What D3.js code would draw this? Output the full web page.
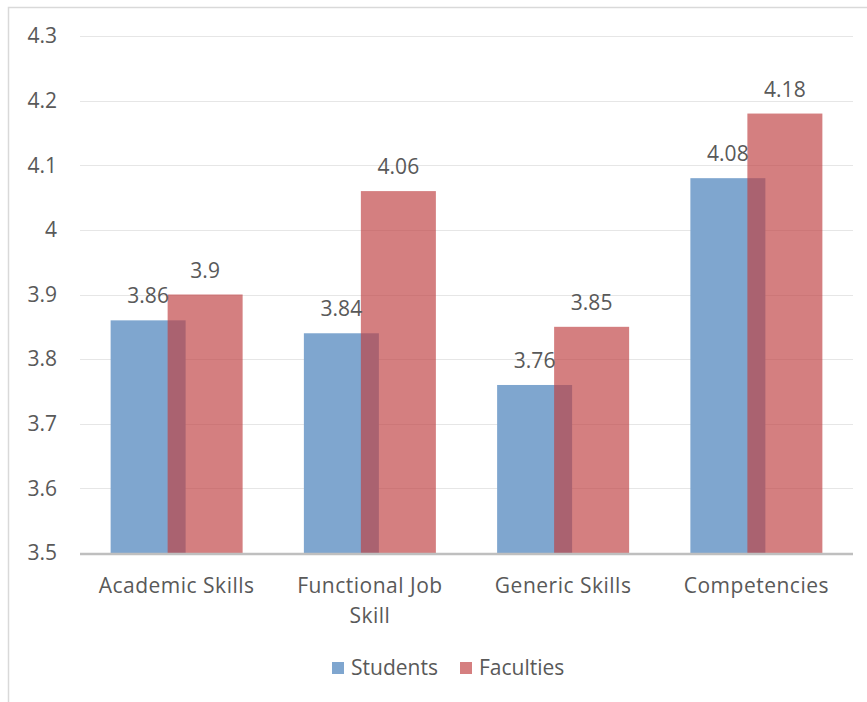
<!DOCTYPE html>
<html>
<head>
<meta charset="utf-8">
<script src="https://cdn.jsdelivr.net/npm/d3@7"></script>
<style>
  html, body { margin: 0; padding: 0; background: #fff; }
  svg { display: block; }
  text { font-family: "Open Sans", "Noto Sans", sans-serif; fill: #595959; }
</style>
</head>
<body>
<svg id="chart" width="867" height="702"></svg>
<script>
// Skill ratings by respondent group
const categories = [["Academic Skills"], ["Functional Job", "Skill"], ["Generic Skills"], ["Competencies"]];
const studentValues = [3.86, 3.84, 3.76, 4.08];
const facultyValues = [3.9, 4.06, 3.85, 4.18];
const yTicks = [3.5, 3.6, 3.7, 3.8, 3.9, 4, 4.1, 4.2, 4.3];
const seriesNames = ["Students", "Faculties"];

const W = 867, H = 702;
const plot = { left: 80, right: 853, top: 36, bottom: 553 };
const fontSize = 21;
const svg = d3.select("#chart");

// chart frame
svg.append("rect")
  .attr("x", 8.5).attr("y", 7.5)
  .attr("width", W + 10).attr("height", H + 10)
  .attr("fill", "none").attr("stroke", "#d9d9d9").attr("stroke-width", 1.5);

const x = d3.scaleBand()
  .domain(d3.range(categories.length))
  .range([plot.left, plot.right])
  .paddingInner(0).paddingOuter(0);

const y = d3.scaleLinear().domain([3.5, 4.3]).range([plot.bottom, plot.top]);

// gridlines
svg.append("g")
  .selectAll("line")
  .data(yTicks.slice(1))
  .join("line")
  .attr("x1", plot.left).attr("x2", plot.right)
  .attr("y1", d => Math.round(y(d)) + 0.5).attr("y2", d => Math.round(y(d)) + 0.5)
  .attr("stroke", "#e6e6e6").attr("stroke-width", 1.2);

// y tick labels
svg.append("g")
  .selectAll("text")
  .data(yTicks)
  .join("text")
  .attr("x", 57).attr("y", d => y(d))
  .attr("dy", "0.35em")
  .attr("text-anchor", "end")
  .attr("font-size", fontSize)
  .text(d => d3.format("")(d));

const barW = 75, overlap = 18;
const center = i => x(i) + x.bandwidth() / 2;
const blueX = i => center(i) - barW + overlap / 2;
const redX = i => center(i) - overlap / 2;

// Students bars
svg.append("g")
  .selectAll("rect")
  .data(studentValues)
  .join("rect")
  .attr("x", (d, i) => blueX(i))
  .attr("y", d => y(d))
  .attr("width", barW)
  .attr("height", d => y(3.5) - y(d))
  .attr("fill", "#7fa6cf");

// Faculties bars (translucent, drawn over the students bars)
svg.append("g")
  .selectAll("rect")
  .data(facultyValues)
  .join("rect")
  .attr("x", (d, i) => redX(i))
  .attr("y", d => y(d))
  .attr("width", barW)
  .attr("height", d => y(3.5) - y(d))
  .attr("fill", "rgb(191,64,66)")
  .attr("fill-opacity", 0.67);

// value labels
const labelOffset = 17;
svg.append("g")
  .selectAll("text")
  .data(studentValues)
  .join("text")
  .attr("x", (d, i) => blueX(i) + barW / 2)
  .attr("y", d => y(d) - labelOffset)
  .attr("text-anchor", "middle")
  .attr("font-size", fontSize)
  .text(d => d);

svg.append("g")
  .selectAll("text")
  .data(facultyValues)
  .join("text")
  .attr("x", (d, i) => redX(i) + barW / 2)
  .attr("y", d => y(d) - labelOffset)
  .attr("text-anchor", "middle")
  .attr("font-size", fontSize)
  .text(d => d);

// x axis line
svg.append("line")
  .attr("x1", plot.left).attr("x2", plot.right)
  .attr("y1", plot.bottom + 1).attr("y2", plot.bottom + 1)
  .attr("stroke", "#bfbfbf").attr("stroke-width", 2.5);

// category labels
const catG = svg.append("g");
categories.forEach((lines, i) => {
  const t = catG.append("text")
    .attr("x", center(i))
    .attr("y", 593)
    .attr("text-anchor", "middle")
    .attr("font-size", fontSize)
    .attr("letter-spacing", 0.5);
  lines.forEach((line, j) => {
    t.append("tspan")
      .attr("x", center(i))
      .attr("dy", j === 0 ? 0 : 30)
      .text(line);
  });
});

// legend
const legendColors = ["#7fa6cf", "rgb(213,127,128)"];
const legendX = [332, 460];
const legend = svg.append("g");
seriesNames.forEach((name, i) => {
  legend.append("rect")
    .attr("x", legendX[i]).attr("y", 662)
    .attr("width", 12).attr("height", 12)
    .attr("fill", legendColors[i]);
  legend.append("text")
    .attr("x", legendX[i] + 19).attr("y", 675)
    .attr("font-size", fontSize)
    .text(name);
});
</script>
</body>
</html>
